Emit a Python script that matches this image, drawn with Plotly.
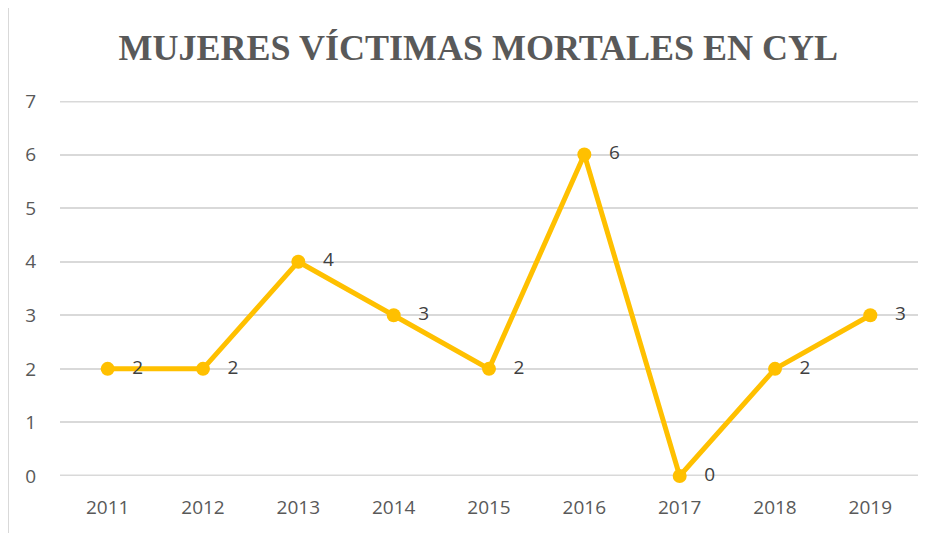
import plotly.graph_objects as go

years = ["2011", "2012", "2013", "2014", "2015", "2016", "2017", "2018", "2019"]
victims = [2, 2, 4, 3, 2, 6, 0, 2, 3]
y_ticks = [0, 1, 2, 3, 4, 5, 6, 7]
title_text = "MUJERES VÍCTIMAS MORTALES EN CYL"

FONT = "Open Sans, Liberation Sans, sans-serif"
GRID = "#D9D9D9"

fig = go.Figure()
fig.add_trace(go.Scatter(
    x=years, y=victims,
    mode="lines+markers+text",
    line=dict(color="#FFC000", width=5),
    marker=dict(color="#FFC000", size=14),
    text=["   " + str(v) for v in victims],
    textposition="middle right",
    textfont=dict(family=FONT, size=19, color="#404040"),
    cliponaxis=False,
    hoverinfo="x+y",
))

# page body has an 8px margin; figure origin is at (8, 8) on the page
L, T = 52, 93
PW = 858
edge_lines = [dict(
    type="line", xref="paper", yref="y", layer="below",
    x0=0, x1=1, y0=v, y1=v,
    line=dict(color=GRID, width=3),
) for v in (y_ticks[0], y_ticks[-1])]

fig.update_layout(
    width=937, height=533,
    margin=dict(l=L, r=937 - L - PW, t=T, b=533 - T - 375),
    paper_bgcolor="white", plot_bgcolor="white",
    showlegend=False,
    title=dict(
        text="<b>" + title_text + "</b>",
        font=dict(family="Liberation Serif, DejaVu Serif, serif", size=36, color="#595959"),
        x=0.502, xanchor="center", y=1 - 39 / 533, yanchor="middle",
    ),
    xaxis=dict(
        type="category", range=[-0.5, 8.5],
        showgrid=False, zeroline=False, showline=False,
        ticks="", ticklabelstandoff=18,
        tickfont=dict(family=FONT, size=19, color="#595959"),
    ),
    yaxis=dict(
        range=[0, 7], tickvals=y_ticks,
        showgrid=True, gridcolor=GRID, gridwidth=1.5,
        zeroline=False, showline=False, ticks="", ticklabelstandoff=23,
        tickfont=dict(family=FONT, size=19, color="#595959"),
    ),
    shapes=[dict(
        type="line", xref="paper", yref="paper",
        x0=-L / PW, x1=-L / PW, y0=-1, y1=2,
        line=dict(color=GRID, width=2),
    )] + edge_lines,
)

fig.write_html("out.html")
